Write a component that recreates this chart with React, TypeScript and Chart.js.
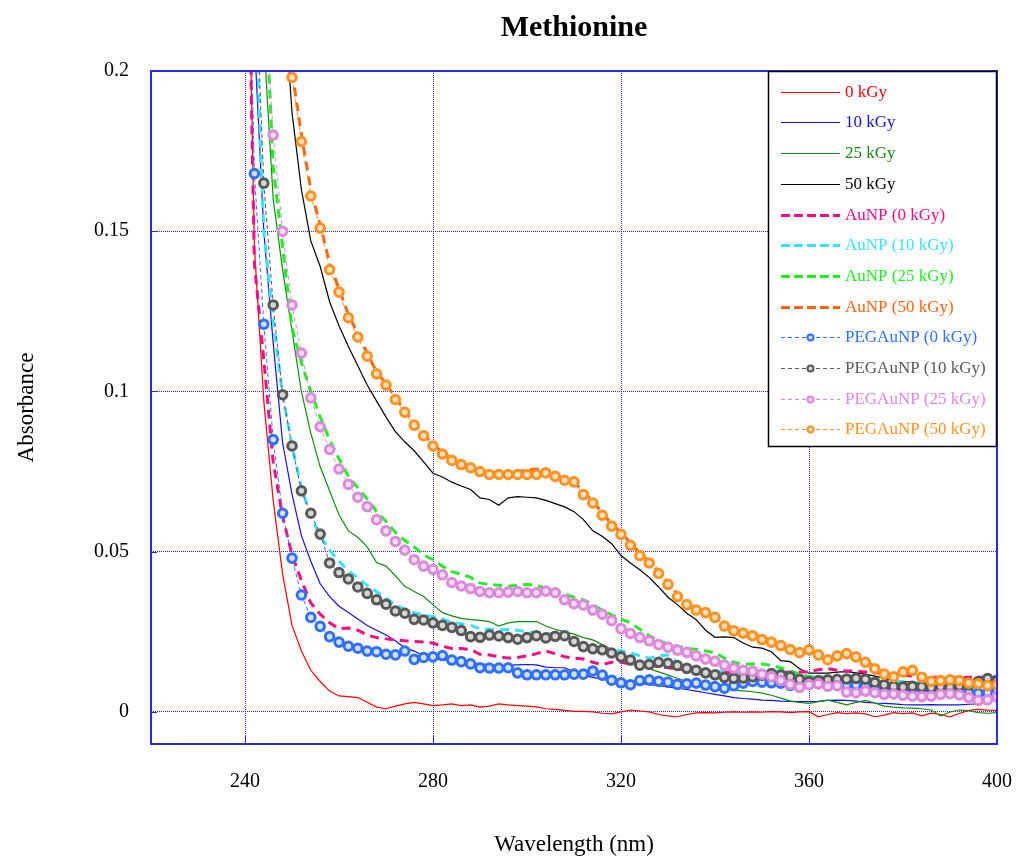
import { useEffect, useRef } from "react";
import { Chart, registerables } from "chart.js";

Chart.register(...registerables);

// ---- text ----
const chartTitle = "Methionine";
const xAxisTitle = "Wavelength (nm)";
const yAxisTitle = "Absorbance";

// ---- axes ----
const xTicks = [240, 280, 320, 360, 400];
const xTickLabels = ["240", "280", "320", "360", "400"];
const yTicks = [0, 0.05, 0.1, 0.15, 0.2];
const yTickLabels = ["0", "0.05", "0.1", "0.15", "0.2"];

// ---- spectra (absorbance vs wavelength, nm) ----
const wavelengths = [
  240, 242, 244, 246, 248, 250, 252, 254, 256, 258,
  260, 262, 264, 266, 268, 270, 272, 274, 276, 278,
  280, 282, 284, 286, 288, 290, 292, 294, 296, 298,
  300, 302, 304, 306, 308, 310, 312, 314, 316, 318,
  320, 322, 324, 326, 328, 330, 332, 334, 336, 338,
  340, 342, 344, 346, 348, 350, 352, 354, 356, 358,
  360, 362, 364, 366, 368, 370, 372, 374, 376, 378,
  380, 382, 384, 386, 388, 390, 392, 394, 396, 398,
  400,
];

const met0kGy = [
  0.30, 0.145, 0.097, 0.066, 0.043, 0.027, 0.019, 0.013, 0.0095, 0.0065,
  0.005, 0.0048, 0.0045, 0.003, 0.0015, 0.001, 0.0018, 0.0025, 0.003, 0.0025,
  0.002, 0.0022, 0.0025, 0.002, 0.0022, 0.0015, 0.0018, 0.0025, 0.0022, 0.002,
  0.0018, 0.0016, 0.001, 0.0008, 0.0005, 0.0002, 0.0002, 0.0, -0.0004, -0.0006,
  0.0, 0.0006, 0.0003, 0.0, -0.0008, -0.0012, -0.0015, -0.0008, -0.0003, -0.0002,
  -0.0003, -0.0001, 0.0, -0.0001, 0.0, -0.0001, 0.0001, 0.0, -0.0002, 0.0,
  0.0001, -0.0015, -0.0008, -0.0002, -0.0005, -0.0003, -0.0006, -0.0015, -0.001, -0.0002,
  -0.0005, -0.0003, -0.0012, -0.0004, -0.0008, -0.0015, -0.0005, 0.0005, 0.0008, 0.0006,
  0.0005,
];

const met10kGy = [
  0.35, 0.21, 0.15, 0.115, 0.084, 0.068, 0.055, 0.047, 0.040, 0.036,
  0.033, 0.031, 0.029, 0.027, 0.0255, 0.024, 0.0222, 0.020, 0.019, 0.0175,
  0.0165, 0.0163, 0.016, 0.0157, 0.0153, 0.015, 0.0148, 0.0145, 0.0146, 0.0147,
  0.0148, 0.0147, 0.014, 0.0138, 0.0138, 0.0125, 0.0115, 0.0108, 0.0102, 0.0096,
  0.0092, 0.009, 0.0088, 0.0085, 0.0082, 0.0078, 0.0074, 0.007, 0.0065, 0.006,
  0.0055, 0.005, 0.0045, 0.0042, 0.004, 0.0037, 0.0036, 0.0034, 0.0033, 0.0032,
  0.0032, 0.0033, 0.0036, 0.0037, 0.0036, 0.0034, 0.003, 0.0028, 0.0027, 0.0025,
  0.0023, 0.0022, 0.0022, 0.0023, 0.0022, 0.0022, 0.0022, 0.0024, 0.0025, 0.0035,
  0.0042,
];

const met25kGy = [
  0.40, 0.30, 0.21, 0.16, 0.138, 0.119, 0.10, 0.087, 0.0765, 0.069,
  0.0615, 0.0565, 0.0545, 0.0515, 0.0466, 0.0455, 0.0425, 0.0392, 0.0376, 0.036,
  0.0335, 0.031, 0.03, 0.0292, 0.0288, 0.0286, 0.0282, 0.0268, 0.0278, 0.0282,
  0.0282, 0.0282, 0.0268, 0.0258, 0.025, 0.0243, 0.0232, 0.0225, 0.021, 0.0195,
  0.0172, 0.0155, 0.0145, 0.0135, 0.0125, 0.0115, 0.0105, 0.0095, 0.0082, 0.0077,
  0.0073, 0.007, 0.0068, 0.0066, 0.0063, 0.0059, 0.0052, 0.0043, 0.0034, 0.003,
  0.0027, 0.0032, 0.0037, 0.003, 0.0022, 0.003, 0.0036, 0.0028, 0.0018, 0.0015,
  0.0013, 0.0012, 0.001, 0.0006, -0.0012, 0.0, 0.0006, 0.0004, -0.0002, -0.0004,
  -0.0002,
];

const met50kGy = [
  0.60, 0.45, 0.35, 0.28, 0.23, 0.187, 0.163, 0.147, 0.139, 0.128,
  0.1205, 0.114, 0.108, 0.102, 0.097, 0.092, 0.0875, 0.0843, 0.0815, 0.078,
  0.0745, 0.0733, 0.0717, 0.0705, 0.0694, 0.0668, 0.0663, 0.0645, 0.0668, 0.0672,
  0.067, 0.0668, 0.066, 0.065, 0.064, 0.0625, 0.06, 0.0565, 0.0548, 0.0525,
  0.0488, 0.0465, 0.0444, 0.042, 0.039, 0.0358, 0.0335, 0.0308, 0.0288, 0.0255,
  0.0233, 0.0234, 0.0232, 0.0215, 0.0202, 0.0199, 0.0188, 0.016, 0.0157, 0.0135,
  0.0121, 0.0121, 0.0121, 0.0124, 0.0126, 0.0122, 0.0118, 0.0112, 0.0105, 0.0098,
  0.0095, 0.0093, 0.009, 0.009, 0.0088, 0.0088, 0.0088, 0.009, 0.0092, 0.0095,
  0.0098,
];

const aunp0kGy = [
  0.30, 0.14, 0.11, 0.078, 0.061, 0.049, 0.041, 0.034, 0.0305, 0.0278,
  0.026, 0.0262, 0.0255, 0.024, 0.0232, 0.0228, 0.0225, 0.0222, 0.022, 0.0218,
  0.0215, 0.0205, 0.0198, 0.0198, 0.0195, 0.018, 0.0178, 0.0172, 0.0168, 0.017,
  0.0175, 0.0182, 0.019, 0.0182, 0.0172, 0.0168, 0.0165, 0.0155, 0.0148, 0.0155,
  0.0155, 0.015, 0.0148, 0.0145, 0.0142, 0.0138, 0.0134, 0.013, 0.0126, 0.0125,
  0.0125, 0.0124, 0.0124, 0.0122, 0.0125, 0.0125, 0.0125, 0.0123, 0.0125, 0.0125,
  0.0125, 0.0132, 0.0135, 0.013, 0.0128, 0.0127, 0.0125, 0.0122, 0.012, 0.0118,
  0.0115, 0.0112, 0.011, 0.0108, 0.0108, 0.0108, 0.0106, 0.0108, 0.0108, 0.0108,
  0.011,
];

const aunp10kGy = [
  0.38, 0.23, 0.15, 0.122, 0.099, 0.083, 0.07, 0.061, 0.055, 0.0505,
  0.047, 0.044, 0.0418, 0.0395, 0.0375, 0.0355, 0.0335, 0.032, 0.031, 0.0303,
  0.0298, 0.029, 0.028, 0.0275, 0.027, 0.026, 0.0258, 0.0256, 0.0257, 0.0255,
  0.025, 0.0248, 0.0245, 0.0245, 0.0235, 0.022, 0.0205, 0.02, 0.0196, 0.0194,
  0.019, 0.0185, 0.0175, 0.0168, 0.0175, 0.0178, 0.0155, 0.014, 0.0135, 0.013,
  0.0128, 0.0125, 0.0122, 0.012, 0.0122, 0.0125, 0.0128, 0.0127, 0.0125, 0.0115,
  0.011, 0.011, 0.0108, 0.0105, 0.0102, 0.01, 0.0098, 0.0097, 0.0095, 0.0095,
  0.0095, 0.0093, 0.009, 0.0088, 0.0088, 0.0088, 0.009, 0.0092, 0.0095, 0.0095,
  0.0095,
];

const aunp25kGy = [
  0.40, 0.30, 0.235, 0.17, 0.145, 0.12, 0.109, 0.1, 0.092, 0.085,
  0.079, 0.0735, 0.07, 0.0665, 0.0625, 0.0595, 0.056, 0.0535, 0.0515, 0.049,
  0.0475, 0.0455, 0.0438, 0.043, 0.042, 0.0402, 0.0398, 0.0395, 0.0392, 0.0395,
  0.0398, 0.0396, 0.0385, 0.0378, 0.0368, 0.0358, 0.035, 0.0335, 0.0318, 0.0302,
  0.029, 0.0278, 0.0258, 0.0238, 0.0222, 0.0212, 0.0205, 0.0198, 0.0196, 0.019,
  0.0185, 0.0168, 0.0155, 0.0148, 0.015, 0.015, 0.0145, 0.0138, 0.0128, 0.0118,
  0.011, 0.0108, 0.0105, 0.0103, 0.01, 0.0098, 0.0095, 0.0092, 0.009, 0.0088,
  0.0086, 0.0085, 0.0083, 0.0082, 0.008, 0.008, 0.0078, 0.0078, 0.0076, 0.0075,
  0.0075,
];

const aunp50kGy = [
  0.70, 0.50, 0.38, 0.30, 0.24, 0.20, 0.18, 0.163, 0.152, 0.14,
  0.132, 0.124, 0.118, 0.112, 0.106, 0.1025, 0.098, 0.094, 0.09, 0.0868,
  0.0835, 0.081, 0.079, 0.0778, 0.0765, 0.0755, 0.0745, 0.0748, 0.0745, 0.075,
  0.0755, 0.0758, 0.075, 0.0738, 0.0728, 0.072, 0.0685, 0.066, 0.062, 0.0588,
  0.056, 0.0528, 0.0495, 0.047, 0.0438, 0.0405, 0.0368, 0.034, 0.0322, 0.0315,
  0.03, 0.0275, 0.026, 0.025, 0.024, 0.0235, 0.0222, 0.021, 0.02, 0.0192,
  0.0195, 0.018, 0.0168, 0.0178, 0.0185, 0.0175, 0.016, 0.014, 0.0122, 0.0115,
  0.0128, 0.0132, 0.0112, 0.01, 0.0102, 0.0103, 0.01, 0.0095, 0.0092, 0.0088,
  0.009,
];

const peg0kGy = [
  0.30, 0.168, 0.121, 0.085, 0.062, 0.048, 0.0365, 0.0295, 0.0267, 0.0235,
  0.0218, 0.0205, 0.0199, 0.019, 0.0188, 0.018, 0.0178, 0.019, 0.0164, 0.017,
  0.0172, 0.0176, 0.0162, 0.0157, 0.015, 0.0138, 0.0137, 0.0137, 0.0138, 0.0122,
  0.0116, 0.0116, 0.0116, 0.0116, 0.0116, 0.0118, 0.0118, 0.0128, 0.0115, 0.0099,
  0.0091, 0.0085, 0.0098, 0.01, 0.0096, 0.0093, 0.0086, 0.0088, 0.009, 0.0084,
  0.0079, 0.0074, 0.0082, 0.009, 0.0095, 0.0093, 0.0091, 0.009, 0.0083, 0.0079,
  0.009, 0.0088, 0.0087, 0.0086, 0.0085, 0.0084, 0.0082, 0.008, 0.0078, 0.0077,
  0.0076, 0.0075, 0.0073, 0.0072, 0.007, 0.0069, 0.0065, 0.006, 0.0058, 0.006,
  0.0065,
];

const peg10kGy = [
  0.32, 0.24, 0.165, 0.127, 0.099, 0.083, 0.069, 0.062, 0.0555, 0.0465,
  0.0435, 0.0415, 0.039, 0.037, 0.035, 0.0336, 0.0315, 0.0308, 0.0289, 0.0287,
  0.0278, 0.027, 0.0264, 0.0254, 0.0235, 0.0233, 0.024, 0.0237, 0.0232, 0.0227,
  0.0232, 0.0238, 0.0231, 0.0236, 0.0238, 0.022, 0.0204, 0.0197, 0.0194, 0.0184,
  0.0172, 0.0162, 0.0146, 0.0148, 0.0155, 0.0152, 0.0145, 0.0136, 0.013, 0.0122,
  0.0116, 0.0108, 0.0105, 0.0106, 0.011, 0.0115, 0.012, 0.0115, 0.011, 0.0102,
  0.0095, 0.0098, 0.01, 0.0102, 0.0103, 0.0105, 0.0102, 0.0092, 0.0085, 0.008,
  0.0078, 0.008, 0.0079, 0.0076, 0.008, 0.0078, 0.0082, 0.0085, 0.0095, 0.0104,
  0.0098,
];

const peg25kGy = [
  0.40, 0.30, 0.23, 0.18, 0.15, 0.127, 0.112, 0.098, 0.089, 0.0819,
  0.0758, 0.071, 0.067, 0.0641, 0.06, 0.0565, 0.0532, 0.0505, 0.0475, 0.0455,
  0.0445, 0.0428, 0.0404, 0.0393, 0.0385, 0.0376, 0.0372, 0.0372, 0.0374, 0.0376,
  0.0372, 0.0372, 0.0377, 0.0372, 0.035, 0.0338, 0.0334, 0.0318, 0.0305, 0.0285,
  0.026, 0.0245, 0.0232, 0.0222, 0.021, 0.0202, 0.0193, 0.0186, 0.0175, 0.0165,
  0.0158, 0.0146, 0.0137, 0.013, 0.0127, 0.0118, 0.011, 0.0098, 0.0086, 0.0077,
  0.0085, 0.0088, 0.008, 0.0082, 0.0062, 0.006, 0.0065, 0.006, 0.0055, 0.0056,
  0.0052, 0.0049, 0.0048, 0.0049, 0.0055, 0.0057, 0.0053, 0.0045, 0.0036, 0.0038,
  0.0047,
];

const peg50kGy = [
  0.70, 0.50, 0.38, 0.30, 0.24, 0.198, 0.178, 0.161, 0.151, 0.138,
  0.131, 0.123, 0.117, 0.111, 0.1055, 0.102, 0.0975, 0.0935, 0.0895, 0.0862,
  0.083, 0.0805, 0.0785, 0.0772, 0.0762, 0.075, 0.0741, 0.0741, 0.0741, 0.0741,
  0.0741, 0.0741, 0.0746, 0.0735, 0.0723, 0.0718, 0.0678, 0.0652, 0.0614, 0.058,
  0.0554, 0.052, 0.0488, 0.0465, 0.0432, 0.0398, 0.036, 0.0335, 0.0318, 0.031,
  0.0295, 0.0268, 0.0253, 0.0246, 0.0238, 0.0226, 0.0218, 0.0207, 0.0195, 0.0185,
  0.0194, 0.0178, 0.0163, 0.0175, 0.0182, 0.0172, 0.0155, 0.0135, 0.0118, 0.011,
  0.0125, 0.013, 0.0108, 0.0096, 0.0098, 0.01, 0.0098, 0.009, 0.0088, 0.0082,
  0.0085,
];

const seriesLabels = [
  "0 kGy",
  "10 kGy",
  "25 kGy",
  "50 kGy",
  "AuNP (0 kGy)",
  "AuNP (10 kGy)",
  "AuNP (25 kGy)",
  "AuNP (50 kGy)",
  "PEGAuNP (0 kGy)",
  "PEGAuNP (10 kGy)",
  "PEGAuNP (25 kGy)",
  "PEGAuNP (50 kGy)",
];

const seriesValues = [
  met0kGy, met10kGy, met25kGy, met50kGy,
  aunp0kGy, aunp10kGy, aunp25kGy, aunp50kGy,
  peg0kGy, peg10kGy, peg25kGy, peg50kGy,
];

// ---- styling ----
type Kind = "plain" | "aunp" | "peg";
const seriesStyle: { color: string; fill: string; kind: Kind }[] = [
  { color: "#ff0000", fill: "#ff0000", kind: "plain" },
  { color: "#1010ee", fill: "#1010ee", kind: "plain" },
  { color: "#108a10", fill: "#108a10", kind: "plain" },
  { color: "#000000", fill: "#000000", kind: "plain" },
  { color: "#ff0a84", fill: "#ff0a84", kind: "aunp" },
  { color: "#38e2ff", fill: "#38e2ff", kind: "aunp" },
  { color: "#22ee22", fill: "#22ee22", kind: "aunp" },
  { color: "#ff6410", fill: "#ff6410", kind: "aunp" },
  { color: "#2f70ff", fill: "#d2e0ff", kind: "peg" },
  { color: "#585858", fill: "#d6d6d6", kind: "peg" },
  { color: "#dc88dc", fill: "#f6dcf6", kind: "peg" },
  { color: "#ff9222", fill: "#ffe0b8", kind: "peg" },
];

const FONT = "'Liberation Serif', 'Times New Roman', serif";
const FRAME = "#2a2aee";
const GRID = "#2626ff";
const AUNP_DASH = [9, 6];
const PEG_DASH = [4, 3];

const decorations = {
  id: "decorations",
  afterDatasetsDraw(chart: any) {
    const { ctx, chartArea: a, scales } = chart;
    ctx.save();

    // plot frame
    ctx.strokeStyle = FRAME;
    ctx.lineWidth = 2;
    ctx.setLineDash([]);
    ctx.strokeRect(a.left, a.top, a.right - a.left, a.bottom - a.top);

    // inner tick marks
    ctx.lineWidth = 1;
    ctx.beginPath();
    for (const v of xTicks) {
      const px = Math.round(scales.x.getPixelForValue(v)) + 0.5;
      ctx.moveTo(px, a.bottom);
      ctx.lineTo(px, a.bottom - 9);
    }
    for (const v of yTicks) {
      const py = Math.round(scales.y.getPixelForValue(v)) + 0.5;
      ctx.moveTo(a.left, py);
      ctx.lineTo(a.left + 6, py);
    }
    ctx.stroke();

    // legend box
    const boxW = 229;
    const boxH = 376;
    const bx = a.right - boxW;
    const by = a.top;
    ctx.fillStyle = "#ffffff";
    ctx.fillRect(bx, by, boxW, boxH);
    ctx.strokeStyle = "#000000";
    ctx.lineWidth = 1.5;
    ctx.strokeRect(bx + 0.5, by + 0.5, boxW - 1, boxH - 1);

    const rowH = 30.7;
    const x0 = bx + 13;
    const x1 = bx + 72;
    ctx.font = `17px ${FONT}`;
    ctx.textBaseline = "middle";
    ctx.textAlign = "left";
    chart.data.datasets.forEach((ds: any, i: number) => {
      const y = Math.round(by + 20.7 + i * rowH) + 0.5;
      const st = seriesStyle[i];
      ctx.strokeStyle = ds.borderColor;
      if (st.kind === "plain") {
        ctx.lineWidth = 1.2;
        ctx.setLineDash([]);
      } else if (st.kind === "aunp") {
        ctx.lineWidth = 3;
        ctx.setLineDash([9, 4]);
      } else {
        ctx.lineWidth = 1;
        ctx.setLineDash([4, 3]);
      }
      ctx.beginPath();
      ctx.moveTo(x0, y);
      ctx.lineTo(x1, y);
      ctx.stroke();
      ctx.setLineDash([]);
      if (st.kind === "peg") {
        ctx.beginPath();
        ctx.arc((x0 + x1) / 2, y, 3, 0, Math.PI * 2);
        ctx.fillStyle = st.fill;
        ctx.fill();
        ctx.lineWidth = 2;
        ctx.stroke();
      }
      ctx.fillStyle = ds.borderColor;
      ctx.fillText(ds.label, bx + 77, y);
    });

    ctx.restore();
  },
  afterDraw(chart: any) {
    const { ctx, chartArea: a } = chart;
    ctx.save();
    ctx.font = `bold 30px ${FONT}`;
    ctx.fillStyle = "#000000";
    ctx.textAlign = "center";
    ctx.textBaseline = "alphabetic";
    ctx.fillText(chartTitle, (a.left + a.right) / 2, 36);
    ctx.restore();
  },
};

export default function App() {
  const canvasRef = useRef<HTMLCanvasElement>(null);

  useEffect(() => {
    const canvas = canvasRef.current;
    if (!canvas) return;

    const datasets = seriesValues.map((vals, i) => {
      const s = seriesStyle[i];
      const base: any = {
        label: seriesLabels[i],
        data: wavelengths.map((x, j) => ({ x, y: vals[j] })),
        borderColor: s.color,
        backgroundColor: s.color,
        fill: false,
        tension: 0,
        order: seriesValues.length - i,
      };
      if (s.kind === "plain") {
        return { ...base, borderWidth: 1.2, pointRadius: 0 };
      }
      if (s.kind === "aunp") {
        return { ...base, borderWidth: 3, borderDash: AUNP_DASH, pointRadius: 0 };
      }
      return {
        ...base,
        borderWidth: 1,
        borderDash: PEG_DASH,
        pointStyle: "circle",
        pointRadius: 4.3,
        pointBorderWidth: 3,
        pointBorderColor: s.color,
        pointBackgroundColor: s.fill,
      };
    });

    const chart = new Chart(canvas, {
      type: "line",
      data: { datasets },
      options: {
        animation: false,
        responsive: false,
        devicePixelRatio: 1,
        layout: { padding: { top: 71, right: 19, left: 0, bottom: 0 } },
        plugins: {
          legend: { display: false },
          tooltip: { enabled: false },
          title: { display: false },
        },
        scales: {
          x: {
            type: "linear",
            min: 220,
            max: 400,
            afterBuildTicks: (axis: any) => {
              axis.ticks = xTicks.map((v) => ({ value: v }));
            },
            afterFit: (axis: any) => {
              axis.height = 116;
              axis.paddingLeft = 0;
              axis.paddingRight = 16;
            },
            ticks: {
              padding: 26,
              color: "#000000",
              font: { family: FONT, size: 20 },
              maxRotation: 0,
              callback: (v: any) => xTickLabels[xTicks.indexOf(Number(v))] ?? "",
            },
            grid: { color: GRID, lineWidth: 1, drawTicks: false },
            border: { display: false, dash: [1, 1] },
            title: {
              display: true,
              text: xAxisTitle,
              color: "#000000",
              font: { family: FONT, size: 23 },
              padding: { top: 0, bottom: 1 },
            },
          },
          y: {
            type: "linear",
            min: -0.01,
            max: 0.2,
            afterBuildTicks: (axis: any) => {
              axis.ticks = yTicks.map((v) => ({ value: v }));
            },
            afterFit: (axis: any) => {
              axis.width = 151;
            },
            ticks: {
              padding: 22,
              color: "#000000",
              font: { family: FONT, size: 20 },
              callback: (v: any) => yTickLabels[yTicks.indexOf(Number(v))] ?? "",
            },
            grid: { color: GRID, lineWidth: 1, drawTicks: false },
            border: { display: false, dash: [1, 1] },
            title: {
              display: true,
              text: yAxisTitle,
              color: "#000000",
              font: { family: FONT, size: 23 },
              padding: { top: 13, bottom: 0 },
            },
          },
        },
      } as any,
      plugins: [decorations],
    });

    return () => chart.destroy();
  }, []);

  return (
    <div
      style={{
        position: "fixed",
        left: 0,
        top: 0,
        width: 1016,
        height: 860,
        background: "#ffffff",
      }}
    >
      <canvas ref={canvasRef} width={1016} height={860} />
    </div>
  );
}
